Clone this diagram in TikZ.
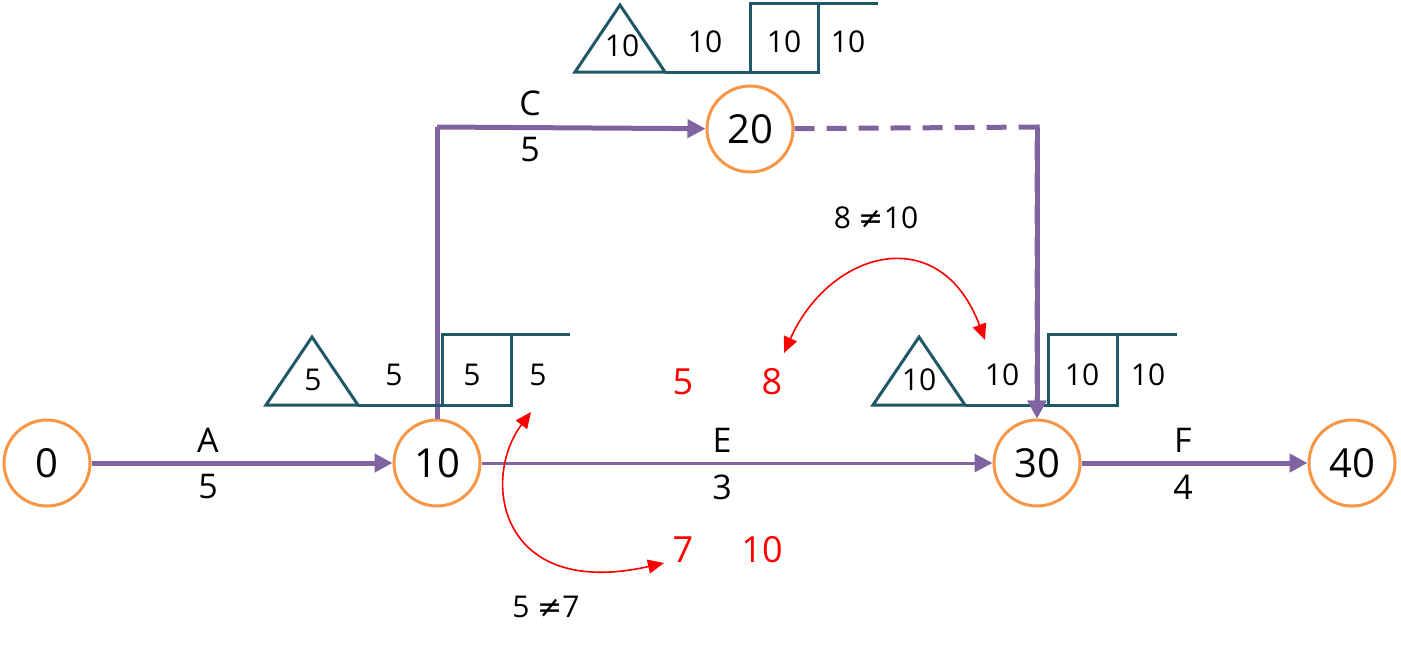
\documentclass[tikz,border=0pt]{standalone}
\usepackage{fontspec}
\setmainfont{Open Sans}
\newfontfamily\djv{DejaVu Sans}
\usetikzlibrary{arrows.meta}
\definecolor{pur}{HTML}{8064A2}
\definecolor{org}{HTML}{F79646}
\definecolor{teal}{HTML}{215868}
\tikzset{
 ev/.style={circle,draw=org,line width=1.5pt,fill=white,minimum size=43pt,inner sep=0pt,font=\fontsize{20}{24}\selectfont},
 act/.style={draw=pur,line width=2.5pt,-{Triangle[length=9pt,width=9pt]}},
 thin act/.style={draw=pur,line width=1.5pt,-{Triangle[length=9pt,width=9pt]}},
 lbl/.style={font=\fontsize{17}{20}\selectfont,inner sep=0pt},
 bx/.style={draw=teal,line width=1.5pt},
 bt/.style={font=\fontsize{15}{18}\selectfont,inner sep=0pt},
 rt/.style={text=red,font=\fontsize{18}{22}\selectfont,inner sep=0pt},
 rarr/.style={draw=red,line width=0.8pt,{Triangle[length=8pt,width=7pt]}-{Triangle[length=8pt,width=7pt]}},
}
\begin{document}
\begin{tikzpicture}[x=0.5pt,y=-0.5pt]
\useasboundingbox (0,0) rectangle (1401,649);
\node[ev] (n0) at (47,463) {0};
\node[ev] (n10) at (437,463) {10};
\node[ev] (n20) at (750,129) {20};
\node[ev] (n30) at (1037,463) {30};
\node[ev] (n40) at (1352,463) {40};
\coordinate (cb) at (437,127);
\coordinate (db) at (1037,127);
\draw[act] (n0) -- (n10);
\draw[act,-] (n10.north) -- (cb);
\draw[act] (cb) -- (n20);
\draw[act,dashed,dash pattern=on 10pt off 6pt] (n20) -- (db) -- (n30);
\draw[thin act] (n10) -- (n30);
\draw[act] (n30) -- (n40);
\node[lbl] (la) at (208,440) {A}; \node[lbl] (la2) at (208,487) {5};
\node[lbl] (lc) at (530,103) {C}; \node[lbl] (lc2) at (530,150) {5};
\node[lbl] (le) at (722,440) {E}; \node[lbl] (le2) at (722,487) {3};
\node[lbl] (lf) at (1183,440) {F}; \node[lbl] (lf2) at (1183,487) {4};
% box at 20
\draw[bx] (575,72) -- (620,5) -- (665,72) -- cycle;
\draw[bx] (665,72) -- (750,72);
\draw[bx] (750,72) rectangle (818,3);
\draw[bx] (818,3) -- (878,3);
\node[bt] (t1) at (622,46) {10}; \node[bt] (t2) at (705,42) {10};
\node[bt] (t3) at (784,42) {10}; \node[bt] (t4) at (848,42) {10};
% box at 10
\draw[bx] (266,405) -- (312,337) -- (358,405) -- cycle;
\draw[bx] (358,405) -- (442,405);
\draw[bx] (442,405) rectangle (511,334);
\draw[bx] (511,334) -- (570,334);
\node[bt] (u1) at (313,380) {5}; \node[bt] (u2) at (394,375) {5};
\node[bt] (u3) at (472,375) {5}; \node[bt] (u4) at (538,375) {5};
% box at 30
\draw[bx] (873,405) -- (919,337) -- (965,405) -- cycle;
\draw[bx] (965,405) -- (1048,405);
\draw[bx] (1048,405) rectangle (1117,334);
\draw[bx] (1117,334) -- (1177,334);
\node[bt] (v1) at (919,380) {10}; \node[bt] (v2) at (1002,375) {10};
\node[bt] (v3) at (1082,375) {10}; \node[bt] (v4) at (1148,375) {10};
\draw[act] (db) -- (n30);
% red
\node[rt] (r1) at (683,382) {5}; \node[rt] (r2) at (772,382) {8};
\node[rt] (r3) at (683,550) {7}; \node[rt] (r4) at (762,550) {10};
\coordinate (p1) at (531,412); \coordinate (p2) at (664,563);
\coordinate (q1) at (784,353); \coordinate (q2) at (985,340);
\draw[rarr] (p1) .. controls (480,480) and (500,600) .. (p2);
\draw[rarr] (q1) .. controls (830,250) and (940,220) .. (q2);
\node[bt] (ne1) at (546,607) {5 {\djv≠}7};
\node[bt] (ne2) at (876,218) {8 {\djv≠}10};
\end{tikzpicture}
\end{document}
